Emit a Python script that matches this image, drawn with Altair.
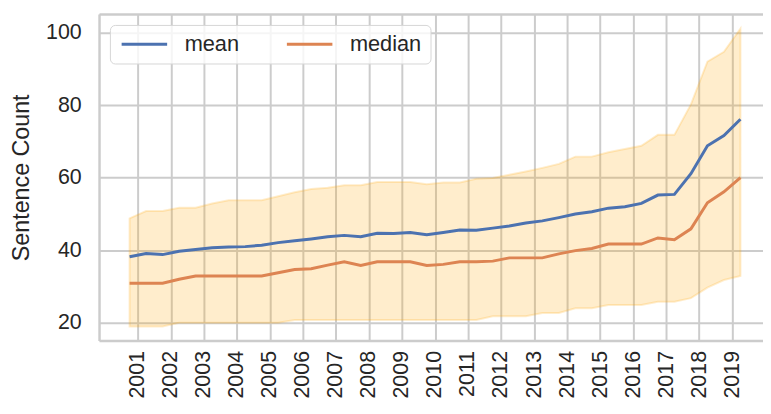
import altair as alt
import pandas as pd

periods = [2000.75, 2001.25, 2001.75, 2002.25, 2002.75, 2003.25, 2003.75, 2004.25,
           2004.75, 2005.25, 2005.75, 2006.25, 2006.75, 2007.25, 2007.75, 2008.25,
           2008.75, 2009.25, 2009.75, 2010.25, 2010.75, 2011.25, 2011.75, 2012.25,
           2012.75, 2013.25, 2013.75, 2014.25, 2014.75, 2015.25, 2015.75, 2016.25,
           2016.75, 2017.25, 2017.75, 2018.25, 2018.75, 2019.25]

mean_vals = [38.2, 39.1, 38.8, 39.7, 40.2, 40.7, 40.9, 41.0, 41.4, 42.1, 42.6, 43.1,
             43.7, 44.1, 43.7, 44.7, 44.6, 44.9, 44.3, 44.9, 45.6, 45.5, 46.1, 46.7,
             47.5, 48.1, 49.0, 50.0, 50.6, 51.6, 52.0, 52.9, 55.2, 55.4, 61.1, 68.8,
             71.6, 76.1]

median_vals = [30.9, 30.9, 30.9, 32.0, 32.9, 32.9, 32.9, 32.9, 32.9, 33.8, 34.7, 34.9,
               35.9, 36.8, 35.8, 36.8, 36.8, 36.8, 35.8, 36.1, 36.8, 36.8, 37.0, 37.9,
               37.9, 37.9, 39.0, 39.9, 40.5, 41.7, 41.7, 41.7, 43.4, 42.9, 45.9, 53.1,
               56.1, 60.0]

upper_vals = [48.8, 50.8, 50.8, 51.7, 51.7, 52.9, 53.8, 53.8, 53.8, 54.9, 56.0, 56.9,
              57.2, 57.9, 57.9, 58.8, 58.8, 58.8, 58.2, 58.7, 58.7, 59.7, 59.9, 60.8,
              61.7, 62.7, 63.8, 65.8, 65.8, 67.0, 67.9, 68.8, 71.8, 71.8, 80.2, 92.0,
              94.7, 101.1]

lower_vals = [19.0, 19.0, 19.0, 20.0, 20.0, 20.0, 20.0, 20.0, 20.0, 20.0, 20.8, 20.8,
              20.8, 20.8, 20.8, 20.8, 20.8, 20.8, 20.8, 20.8, 20.8, 20.8, 21.8, 21.8,
              21.8, 22.7, 22.7, 24.0, 24.0, 24.9, 24.9, 24.9, 25.8, 25.8, 26.8, 29.7,
              31.8, 32.9]

year_ticks = list(range(2001, 2020))
y_ticks = [20, 40, 60, 80, 100]
series_names = ["mean", "median"]
series_colors = ["#4C72B0", "#DD8452"]

FONT = "Liberation Sans"
TEXT = "#262626"
GRID = "#cccccc"

n = len(periods)
band_df = pd.DataFrame({"period": periods, "lower": lower_vals, "upper": upper_vals})
line_df = pd.DataFrame({
    "period": periods * 2,
    "value": mean_vals + median_vals,
    "stat": ["mean"] * n + ["median"] * n,
})

x_scale = alt.Scale(domain=[1999.825, 2019.933], nice=False, zero=False)
y_scale = alt.Scale(domain=[15.1, 105.1], nice=False, zero=False)

y_axis = alt.Axis(values=y_ticks, title="Sentence Count", titleFontSize=23.5,
                  titleFontWeight="normal", titleColor=TEXT, titleFont=FONT,
                  titlePadding=12, labelFontSize=21.6, labelColor=TEXT, labelFont=FONT,
                  labelPadding=18, ticks=False, grid=True, gridColor=GRID, gridWidth=2,
                  domain=True, domainColor=GRID, domainWidth=2.5)

x_axis_bottom = alt.Axis(values=year_ticks, format="d", labelAngle=270, title=None,
                         labelFontSize=21.6, labelColor=TEXT, labelFont=FONT,
                         labelPadding=10, ticks=False, grid=True, gridColor=GRID,
                         gridWidth=2, domain=True, domainColor=GRID, domainWidth=2.5)

x_axis_top = alt.Axis(orient="top", values=year_ticks, labels=False, ticks=False,
                      grid=False, title=None, domain=True, domainColor=GRID,
                      domainWidth=2.5)

band = alt.Chart(band_df).mark_area(fill="orange", fillOpacity=0.2, stroke="orange",
                                    strokeOpacity=0.2, strokeWidth=2).encode(
    x=alt.X("period:Q", scale=x_scale, axis=x_axis_top),
    y=alt.Y("upper:Q", scale=y_scale, axis=y_axis),
    y2="lower:Q",
)

lines = alt.Chart(line_df).mark_line(strokeWidth=3).encode(
    x=alt.X("period:Q", scale=x_scale, axis=x_axis_bottom),
    y=alt.Y("value:Q", scale=y_scale, axis=y_axis),
    color=alt.Color("stat:N", scale=alt.Scale(domain=series_names, range=series_colors),
                    legend=alt.Legend(title=None, orient="none", legendX=11, legendY=11,
                                      direction="horizontal", symbolType="M-1,0L5,0",
                                      symbolSize=235, symbolStrokeWidth=3,
                                      labelOffset=45, columnPadding=41,
                                      labelFontSize=22, labelFont=FONT,
                                      labelColor=TEXT, padding=8.5,
                                      fillColor="rgba(255,255,255,0.8)",
                                      strokeColor="#d6d6d6", cornerRadius=5)),
)

chart = alt.layer(band, lines).resolve_axis(x="independent").properties(
    width=671, height=330,
    autosize=alt.AutoSizeParams(type="none"),
    padding={"left": 92, "top": 4, "right": 0, "bottom": 64},
).configure_view(stroke=None).configure(background="white")

chart.save("out.html", embed_options={"renderer": "svg", "actions": False})
